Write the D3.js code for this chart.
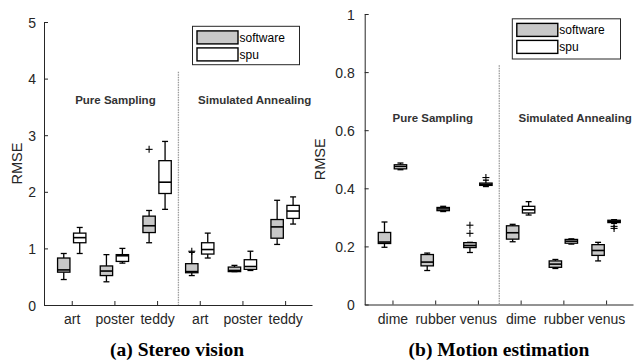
<!DOCTYPE html>
<html>
<head>
<meta charset="utf-8">
<script src="https://cdn.jsdelivr.net/npm/d3@7/dist/d3.min.js"></script>
<style>
  html, body { margin: 0; padding: 0; background: #fff; }
  svg { display: block; }
  text { font-family: "Liberation Sans", Arial, sans-serif; }
</style>
</head>
<body>
<svg id="chart" width="636" height="362"></svg>
<script>
// ---- data ----------------------------------------------------------------
// Each box: [lower whisker, Q1, median, Q3, upper whisker]
const seriesNames = ["software", "spu"];
const groupNames = ["Pure Sampling", "Simulated Annealing"];

const stereoCategories = ["art", "poster", "teddy", "art", "poster", "teddy"];
const stereoSoftware = [
  [0.45, 0.58, 0.62, 0.83, 0.91],
  [0.41, 0.52, 0.60, 0.69, 0.89],
  [1.10, 1.28, 1.40, 1.57, 1.67],
  [0.52, 0.57, 0.59, 0.73, 0.93],
  [0.59, 0.59, 0.61, 0.67, 0.70],
  [1.07, 1.18, 1.38, 1.51, 1.85]
];
const stereoSpu = [
  [0.91, 1.10, 1.19, 1.27, 1.37],
  [0.74, 0.77, 0.87, 0.89, 1.00],
  [1.69, 1.97, 2.17, 2.55, 2.89],
  [0.83, 0.90, 0.98, 1.10, 1.27],
  [0.61, 0.63, 0.68, 0.80, 0.95],
  [1.43, 1.53, 1.66, 1.76, 1.91]
];
// outliers: [category index, value]
const stereoSoftwareOutliers = [[2, 2.75], [3, 0.95]];
const stereoSpuOutliers = [];
const stereoTicks = [0, 1, 2, 3, 4, 5];
const stereoTickLabels = ["0", "1", "2", "3", "4", "5"];

const motionCategories = ["dime", "rubber", "venus", "dime", "rubber", "venus"];
const motionSoftware = [
  [0.197, 0.210, 0.215, 0.248, 0.284],
  [0.117, 0.133, 0.146, 0.172, 0.177],
  [0.179, 0.196, 0.203, 0.213, 0.214],
  [0.216, 0.225, 0.247, 0.271, 0.276],
  [0.124, 0.128, 0.139, 0.150, 0.155],
  [0.150, 0.169, 0.186, 0.206, 0.214]
];
const motionSpu = [
  [0.464, 0.467, 0.475, 0.481, 0.487],
  [0.320, 0.323, 0.329, 0.334, 0.338],
  [0.406, 0.410, 0.414, 0.418, 0.428],
  [0.308, 0.315, 0.326, 0.338, 0.354],
  [0.208, 0.211, 0.218, 0.224, 0.226],
  [0.279, 0.282, 0.286, 0.290, 0.292]
];
const motionSoftwareOutliers = [[2, 0.245], [2, 0.273]];
const motionSpuOutliers = [[2, 0.437], [5, 0.269], [5, 0.262]];
const motionTicks = [0, 0.2, 0.4, 0.6, 0.8, 1];
const motionTickLabels = ["0", "0.2", "0.4", "0.6", "0.8", "1"];

// ---- layout ----------------------------------------------------------------
const panels = [
  {
    caption: "(a) Stereo vision", captionX: 177,
    categories: stereoCategories, software: stereoSoftware, spu: stereoSpu,
    softwareOut: stereoSoftwareOutliers, spuOut: stereoSpuOutliers,
    ticks: stereoTicks, tickLabels: stereoTickLabels, yMax: 5,
    x0: 44, x1: 312, yTop: 22, yBottom: 305, ylabelX: 22, tickPad: 8,
    legend: { x: 192.5, y: 26.3, w: 107, h: 38.4 },
    dividerTop: 4.12, groupLabelY: 3.56, groupLabelPos: [1.08, 3.96]
  },
  {
    caption: "(b) Motion estimation", captionX: 499,
    categories: motionCategories, software: motionSoftware, spu: motionSpu,
    softwareOut: motionSoftwareOutliers, spuOut: motionSpuOutliers,
    ticks: motionTicks, tickLabels: motionTickLabels, yMax: 1,
    x0: 364.7, x1: 633, yTop: 14, yBottom: 304.5, ylabelX: 325, tickPad: 10,
    legend: { x: 512.3, y: 18.8, w: 108.2, h: 40.2 },
    dividerTop: 0.824, groupLabelY: 0.628, groupLabelPos: [1.0, 3.95]
  }
];

const axisColor = "#262626";
const fills = { software: "#c8c8c8", spu: "#ffffff" };
const boxOffset = 0.187;   // in category units
const boxWidth = 0.29;
const capWidth = 0.14;

const svg = d3.select("#chart");

panels.forEach(p => {
  const g = svg.append("g");
  const x = d3.scaleLinear().domain([0.35, 6.63]).range([p.x0, p.x1]);
  const y = d3.scaleLinear().domain([0, p.yMax]).range([p.yBottom, p.yTop]);

  // y axis
  const yAxis = d3.axisLeft(y).tickValues(p.ticks)
    .tickFormat((d, i) => p.tickLabels[i]).tickSizeInner(-4).tickSizeOuter(0).tickPadding(p.tickPad);
  const ya = g.append("g").attr("transform", `translate(${p.x0},0)`).call(yAxis);
  ya.select(".domain").attr("stroke", axisColor);
  ya.selectAll(".tick line").attr("stroke", axisColor);
  ya.selectAll(".tick text").attr("fill", axisColor)
    .style("font-size", "14px").attr("dy", "0.36em");

  // x axis
  const xAxis = d3.axisBottom(x).tickValues([1, 2, 3, 4, 5, 6])
    .tickFormat((d, i) => p.categories[i]).tickSizeInner(-4).tickSizeOuter(0).tickPadding(10);
  const xa = g.append("g").attr("transform", `translate(0,${p.yBottom})`).call(xAxis);
  xa.select(".domain").attr("stroke", axisColor);
  xa.selectAll(".tick line").attr("stroke", axisColor);
  xa.selectAll(".tick text").attr("fill", axisColor)
    .style("font-size", "14px").attr("y", 19).attr("dy", 0);

  // y label
  g.append("text")
    .attr("transform", `translate(${p.ylabelX},${(p.yTop + p.yBottom) / 2}) rotate(-90)`)
    .attr("text-anchor", "middle").attr("fill", axisColor)
    .style("font-size", "14.5px").text("RMSE");

  // divider between the two method groups
  g.append("line")
    .attr("x1", x(3.5)).attr("x2", x(3.5))
    .attr("y1", y(p.dividerTop)).attr("y2", y(0))
    .attr("stroke", "#9a9a9a").attr("stroke-width", 1.3)
    .attr("stroke-dasharray", "1.5,1");

  // group labels
  groupNames.forEach((name, i) => {
    g.append("text")
      .attr("x", x(p.groupLabelPos[i])).attr("y", y(p.groupLabelY))
      .attr("fill", "#333").style("font-size", "11.5px").style("font-weight", "bold")
      .text(name);
  });

  // boxes
  function drawBoxes(stats, outliers, shift, fill) {
    stats.forEach((s, i) => {
      const c = i + 1 + shift;
      const bx0 = x(c - boxWidth / 2), bx1 = x(c + boxWidth / 2);
      const cx = x(c);
      const cw = x(c + capWidth / 2) - cx;
      const bg = g.append("g").attr("stroke", "#000").attr("stroke-width", 1.3);
      bg.append("line").attr("x1", cx).attr("x2", cx).attr("y1", y(s[0])).attr("y2", y(s[1]));
      bg.append("line").attr("x1", cx).attr("x2", cx).attr("y1", y(s[3])).attr("y2", y(s[4]));
      bg.append("line").attr("x1", cx - cw).attr("x2", cx + cw).attr("y1", y(s[0])).attr("y2", y(s[0]));
      bg.append("line").attr("x1", cx - cw).attr("x2", cx + cw).attr("y1", y(s[4])).attr("y2", y(s[4]));
      bg.append("rect").attr("x", bx0).attr("y", y(s[3]))
        .attr("width", bx1 - bx0).attr("height", Math.max(0.5, y(s[1]) - y(s[3])))
        .attr("fill", fill);
      bg.append("line").attr("x1", bx0).attr("x2", bx1).attr("y1", y(s[2])).attr("y2", y(s[2]))
        .attr("stroke-width", 1.6);
    });
    outliers.forEach(([i, v]) => {
      const cx = x(i + 1 + shift), cy = y(v);
      const og = g.append("g").attr("stroke", "#000").attr("stroke-width", 1.1);
      og.append("line").attr("x1", cx - 3.5).attr("x2", cx + 3.5).attr("y1", cy).attr("y2", cy);
      og.append("line").attr("x1", cx).attr("x2", cx).attr("y1", cy - 3.5).attr("y2", cy + 3.5);
    });
  }
  drawBoxes(p.software, p.softwareOut, -boxOffset, fills.software);
  drawBoxes(p.spu, p.spuOut, boxOffset, fills.spu);

  // legend
  const L = p.legend;
  const lg = g.append("g");
  lg.append("rect").attr("x", L.x).attr("y", L.y).attr("width", L.w).attr("height", L.h)
    .attr("fill", "#fff").attr("stroke", axisColor).attr("stroke-width", 1);
  seriesNames.forEach((name, i) => {
    const sy = L.y + 4.6 + i * 17;
    lg.append("rect").attr("x", L.x + 4.5).attr("y", sy).attr("width", 41).attr("height", 13)
      .attr("fill", fills[name]).attr("stroke", "#000").attr("stroke-width", 1.4);
    lg.append("text").attr("x", L.x + 47).attr("y", sy + 11)
      .attr("fill", "#000").style("font-size", "12px").text(name);
  });

  // caption
  svg.append("text").attr("x", p.captionX).attr("y", 355.5)
    .attr("text-anchor", "middle")
    .style("font-family", "'Liberation Serif', 'Times New Roman', serif")
    .style("font-weight", "bold").style("font-size", "19.5px")
    .attr("fill", "#000").text(p.caption);
});
</script>
</body>
</html>
